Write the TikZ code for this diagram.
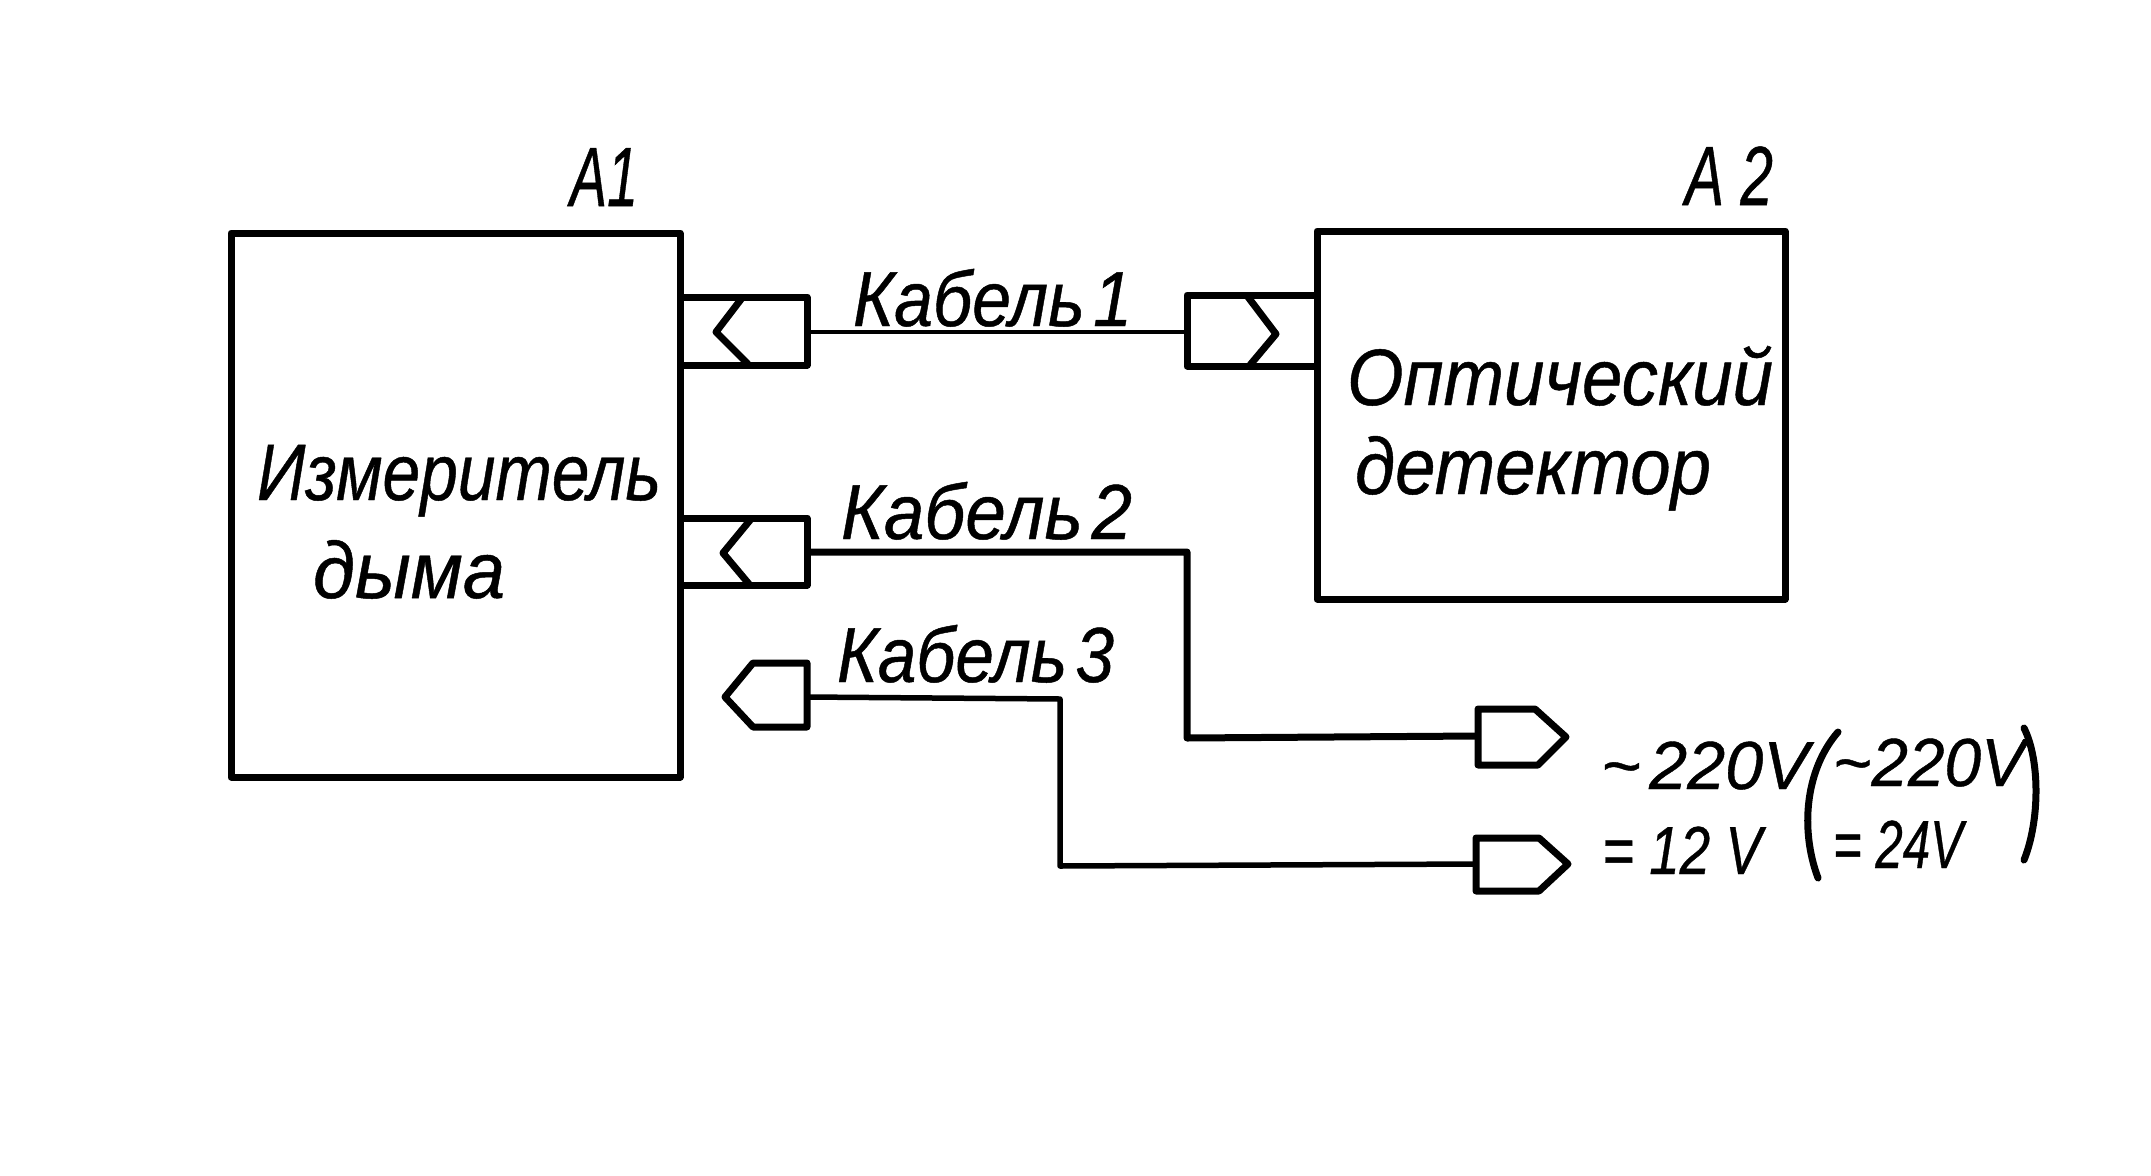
\documentclass[tikz,border=0pt]{standalone}
\usepackage{fontspec}
\setmainfont[ItalicFeatures={FakeBold=0.6}]{Liberation Sans}
\usepackage{graphicx}
\newcommand{\hand}[3]{\fontsize{#2}{#2}\selectfont\itshape\resizebox{#1pt}{\height}{#3}}
\newcommand{\nsp}{\hspace{.12em}}
\tikzset{
  boxnode/.style={draw,line width=7pt,line join=round,rectangle,inner sep=0pt},
  outline/.style={draw,line width=7pt,line join=round},
  thinwire/.style={draw,line width=4.5pt,line join=round},
  medwire/.style={draw,line width=5.5pt,line join=round},
  wire/.style={draw,line width=7pt,line join=round},
  lab/.style={anchor=base west,inner sep=0pt,outer sep=0pt},
  paren/.style={draw,line width=7pt,line cap=round}
}
\begin{document}
\begin{tikzpicture}[x=1pt,y=-1pt]
\useasboundingbox (0,0) rectangle (2151,1175);

% main boxes
\node[boxnode,minimum width=449pt,minimum height=544pt] (a1) at (455.5,505) {};
\node[boxnode,minimum width=468pt,minimum height=368pt] (a2) at (1551,415) {};

% socket 1 on A1
\coordinate (s1a) at (680,297);
\coordinate (s1b) at (807,297);
\coordinate (s1c) at (807,332);
\coordinate (s1d) at (807,365);
\coordinate (s1e) at (680,365);
\draw[outline] (s1a) -- (s1b) -- (s1c) -- (s1d) -- (s1e);
\coordinate (c1a) at (742,298);
\coordinate (c1b) at (716,332);
\coordinate (c1c) at (748,364);
\draw[outline] (c1a) -- (c1b) -- (c1c);

% socket on A2
\coordinate (s2a) at (1317,295);
\coordinate (s2b) at (1187,295);
\coordinate (s2c) at (1187,332);
\coordinate (s2d) at (1187,366);
\coordinate (s2e) at (1317,366);
\draw[outline] (s2a) -- (s2b) -- (s2c) -- (s2d) -- (s2e);
\coordinate (c2a) at (1248,297);
\coordinate (c2b) at (1276,334);
\coordinate (c2c) at (1250,365);
\draw[outline] (c2a) -- (c2b) -- (c2c);

% cable 1
\draw[thinwire] (s1c) -- (s2c);

% socket 2 on A1
\coordinate (s3a) at (680,518);
\coordinate (s3b) at (807,518);
\coordinate (s3c) at (807,552);
\coordinate (s3d) at (807,585);
\coordinate (s3e) at (680,585);
\draw[outline] (s3a) -- (s3b) -- (s3c) -- (s3d) -- (s3e);
\coordinate (c3a) at (751,519);
\coordinate (c3b) at (723,553);
\coordinate (c3c) at (749,584);
\draw[outline] (c3a) -- (c3b) -- (c3c);

% cable 2 plug
\coordinate (p2a) at (1478,736);
\coordinate (p2b) at (1478,709);
\coordinate (p2c) at (1535,709);
\coordinate (p2d) at (1566,737);
\coordinate (p2e) at (1538,765);
\coordinate (p2f) at (1478,765);
\draw[outline] (p2a) -- (p2b) -- (p2c) -- (p2d) -- (p2e) -- (p2f) -- cycle;
\coordinate (k2a) at (1187,552);
\coordinate (k2b) at (1187,738);
\draw[wire] (s3c) -- (k2a) -- (k2b) -- (p2a);

% cable 3 left plug
\coordinate (p3a) at (807,697);
\coordinate (p3b) at (807,663);
\coordinate (p3c) at (753,663);
\coordinate (p3d) at (725,697);
\coordinate (p3e) at (753,727);
\coordinate (p3f) at (807,727);
\draw[outline] (p3a) -- (p3b) -- (p3c) -- (p3d) -- (p3e) -- (p3f) -- cycle;

% cable 3 right plug
\coordinate (p4a) at (1476,864);
\coordinate (p4b) at (1476,838);
\coordinate (p4c) at (1539,838);
\coordinate (p4d) at (1568,864);
\coordinate (p4e) at (1539,891);
\coordinate (p4f) at (1476,891);
\draw[outline] (p4a) -- (p4b) -- (p4c) -- (p4d) -- (p4e) -- (p4f) -- cycle;
\coordinate (k3a) at (1060,699);
\coordinate (k3b) at (1060,866);
\draw[medwire] (p3a) -- (k3a) -- (k3b) -- (p4a);

% labels
\node[lab] (ta1) at (570,206) {\hand{68}{84}{A1}};
\node[lab] (ta2) at (1685,205) {\hand{88}{84}{A 2}};
\node[lab] (t1) at (257,500) {\hand{404}{80}{Измеритель}};
\node[lab] (t2) at (313,598) {\hand{192}{80}{дыма}};
\node[lab] (t3) at (1347,405) {\hand{426}{80}{Оптический}};
\node[lab] (t4) at (1355,494) {\hand{356}{80}{детектор}};
\node[lab] (t5) at (853,326) {\hand{279}{78}{Кабель\nsp 1}};
\node[lab] (t6) at (841,539) {\hand{291}{78}{Кабель\nsp 2}};
\node[lab] (t7) at (837,682) {\hand{277}{78}{Кабель\nsp 3}};
\node[lab] (t8) at (1601,789) {\hand{208}{68}{\char"007E\nsp 220V}};
\node[lab] (t9) at (1602,874) {\hand{160}{68}{= 12 V}};
\node[lab] (t10) at (1833,786) {\hand{192}{68}{\char"007E 220V}};
\node[lab] (t11) at (1833,868) {\hand{130}{68}{= 24V}};

% brackets
\coordinate (bl1) at (1838,732);
\coordinate (bl2) at (1818,878);
\coordinate (br1) at (2024,728);
\coordinate (br2) at (2024,860);
\draw[paren] (bl1) .. controls (1805,770) and (1800,830) .. (bl2);
\draw[paren] (br1) .. controls (2040,760) and (2040,820) .. (br2);
\end{tikzpicture}
\end{document}
